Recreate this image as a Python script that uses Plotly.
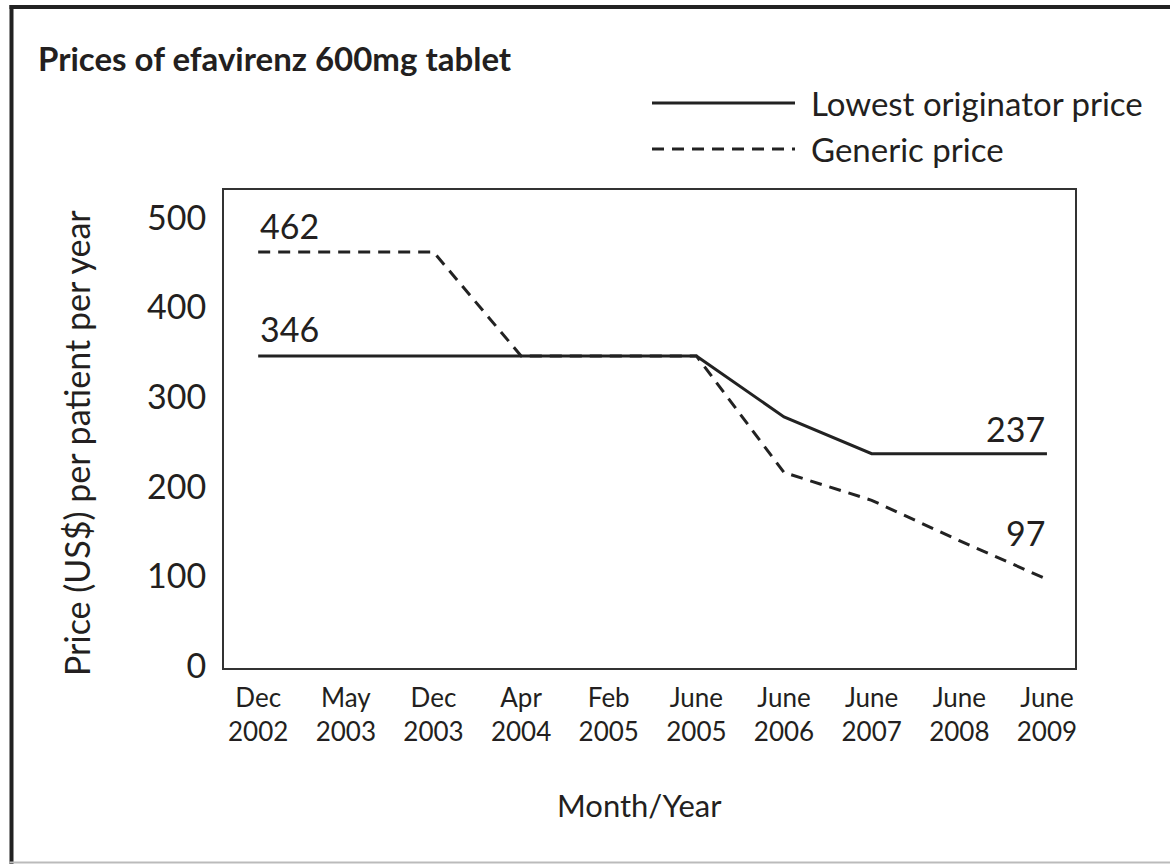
import plotly.graph_objects as go

# ---- data ----
months = ["Dec<br>2002", "May<br>2003", "Dec<br>2003", "Apr<br>2004", "Feb<br>2005",
          "June<br>2005", "June<br>2006", "June<br>2007", "June<br>2008", "June<br>2009"]
originator = [346, 346, 346, 346, 346, 346, 278, 237, 237, 237]
generic = [462, 462, 462, 346, 346, 346, 216, 185, 140, 97]
y_ticks = [0, 100, 200, 300, 400, 500]

TXT = "#231f20"
FONT = "Lato"
x_idx = list(range(len(months)))

fig = go.Figure()
fig.add_trace(go.Scatter(x=x_idx, y=originator, mode="lines", name="Lowest originator price",
                         line=dict(color="#222222", width=3), showlegend=False))
fig.add_trace(go.Scatter(x=x_idx, y=generic, mode="lines", name="Generic price",
                         line=dict(color="#222222", width=3, dash="12px,8px"), showlegend=False))

# data labels
lab_font = dict(family=FONT, size=34, color=TXT)
fig.add_annotation(x=0, y=generic[0], text=str(generic[0]), xref="x", yref="y",
                   xanchor="left", yanchor="bottom", yshift=4, showarrow=False, font=lab_font)
fig.add_annotation(x=0, y=originator[0], text=str(originator[0]), xref="x", yref="y",
                   xanchor="left", yanchor="bottom", yshift=5, showarrow=False, font=lab_font)
fig.add_annotation(x=9, y=originator[-1], text=str(originator[-1]), xref="x", yref="y",
                   xanchor="right", yanchor="bottom", yshift=3, showarrow=False, font=lab_font)
fig.add_annotation(x=9, y=generic[-1], text=str(generic[-1]), xref="x", yref="y",
                   xanchor="right", yanchor="bottom", yshift=24, showarrow=False, font=lab_font)

# geometry helpers (plot area: x 224..1075, y 190..668 in a 1170x864 page)
L, R, T, B = 224, 95, 190, 196
PW, PH = 1170 - L - R, 864 - T - B
def px(x):
    return (x - L) / PW
def py(y):
    return (864 - B - y) / PH

# title
fig.add_annotation(x=px(36), y=py(58), xref="paper", yref="paper", text="<b>Prices of efavirenz 600mg tablet</b>",
                   xanchor="left", yanchor="middle", showarrow=False,
                   font=dict(family=FONT, size=33, color=TXT))

# custom legend
fig.add_shape(type="line", xref="paper", yref="paper", x0=px(652), x1=px(795), y0=py(103), y1=py(103),
              line=dict(color="#222222", width=3))
fig.add_shape(type="line", xref="paper", yref="paper", x0=px(652), x1=px(795), y0=py(149), y1=py(149),
              line=dict(color="#222222", width=3, dash="12px,8px"))
leg_font = dict(family=FONT, size=33, color=TXT)
fig.add_annotation(x=px(809), y=py(103), xref="paper", yref="paper", text="Lowest originator price",
                   xanchor="left", yanchor="middle", showarrow=False, font=leg_font)
fig.add_annotation(x=px(809), y=py(149), xref="paper", yref="paper", text="Generic price",
                   xanchor="left", yanchor="middle", showarrow=False, font=leg_font)

# axis titles
fig.add_annotation(x=px(76), y=py(443), xref="paper", yref="paper", text="Price (US$) per patient per year",
                   textangle=-90, xanchor="center", yanchor="middle", showarrow=False,
                   font=dict(family=FONT, size=34, color=TXT))
fig.add_annotation(x=px(639), y=py(805), xref="paper", yref="paper", text="Month/Year",
                   xanchor="center", yanchor="middle", showarrow=False,
                   font=dict(family=FONT, size=31, color=TXT))

# outer frame
fig.add_shape(type="line", xref="paper", yref="paper", x0=px(11.5), x1=px(11.5), y0=py(864), y1=py(5),
              line=dict(color="#222222", width=4))
fig.add_shape(type="line", xref="paper", yref="paper", x0=px(9.5), x1=px(1175), y0=py(7), y1=py(7),
              line=dict(color="#222222", width=4))
fig.add_shape(type="line", xref="paper", yref="paper", x0=px(9.5), x1=px(1175), y0=py(862.5), y1=py(862.5),
              line=dict(color="#bbbbbb", width=2))

fig.update_layout(
    width=1170, height=864,
    margin=dict(l=L, r=R, t=T, b=B, pad=0),
    paper_bgcolor="white", plot_bgcolor="white",
    showlegend=False,
    font=dict(family=FONT, color=TXT),
)
fig.update_xaxes(
    range=[-0.39, 9.32], tickmode="array", tickvals=x_idx, ticktext=months,
    showgrid=False, zeroline=False, showline=True, mirror=True, linecolor="#333333", linewidth=2,
    ticks="", ticklabelstandoff=6, tickfont=dict(family=FONT, size=26, color=TXT),
)
fig.update_yaxes(
    range=[-2, 531], tickmode="array", tickvals=y_ticks,
    showgrid=False, zeroline=False, showline=True, mirror=True, linecolor="#333333", linewidth=2,
    ticks="", ticklabelstandoff=9, tickfont=dict(family=FONT, size=34, color=TXT),
)

fig.write_html("out.html", config={"displayModeBar": False},
               post_script="document.body.style.margin='0';document.body.style.overflow='hidden';")
